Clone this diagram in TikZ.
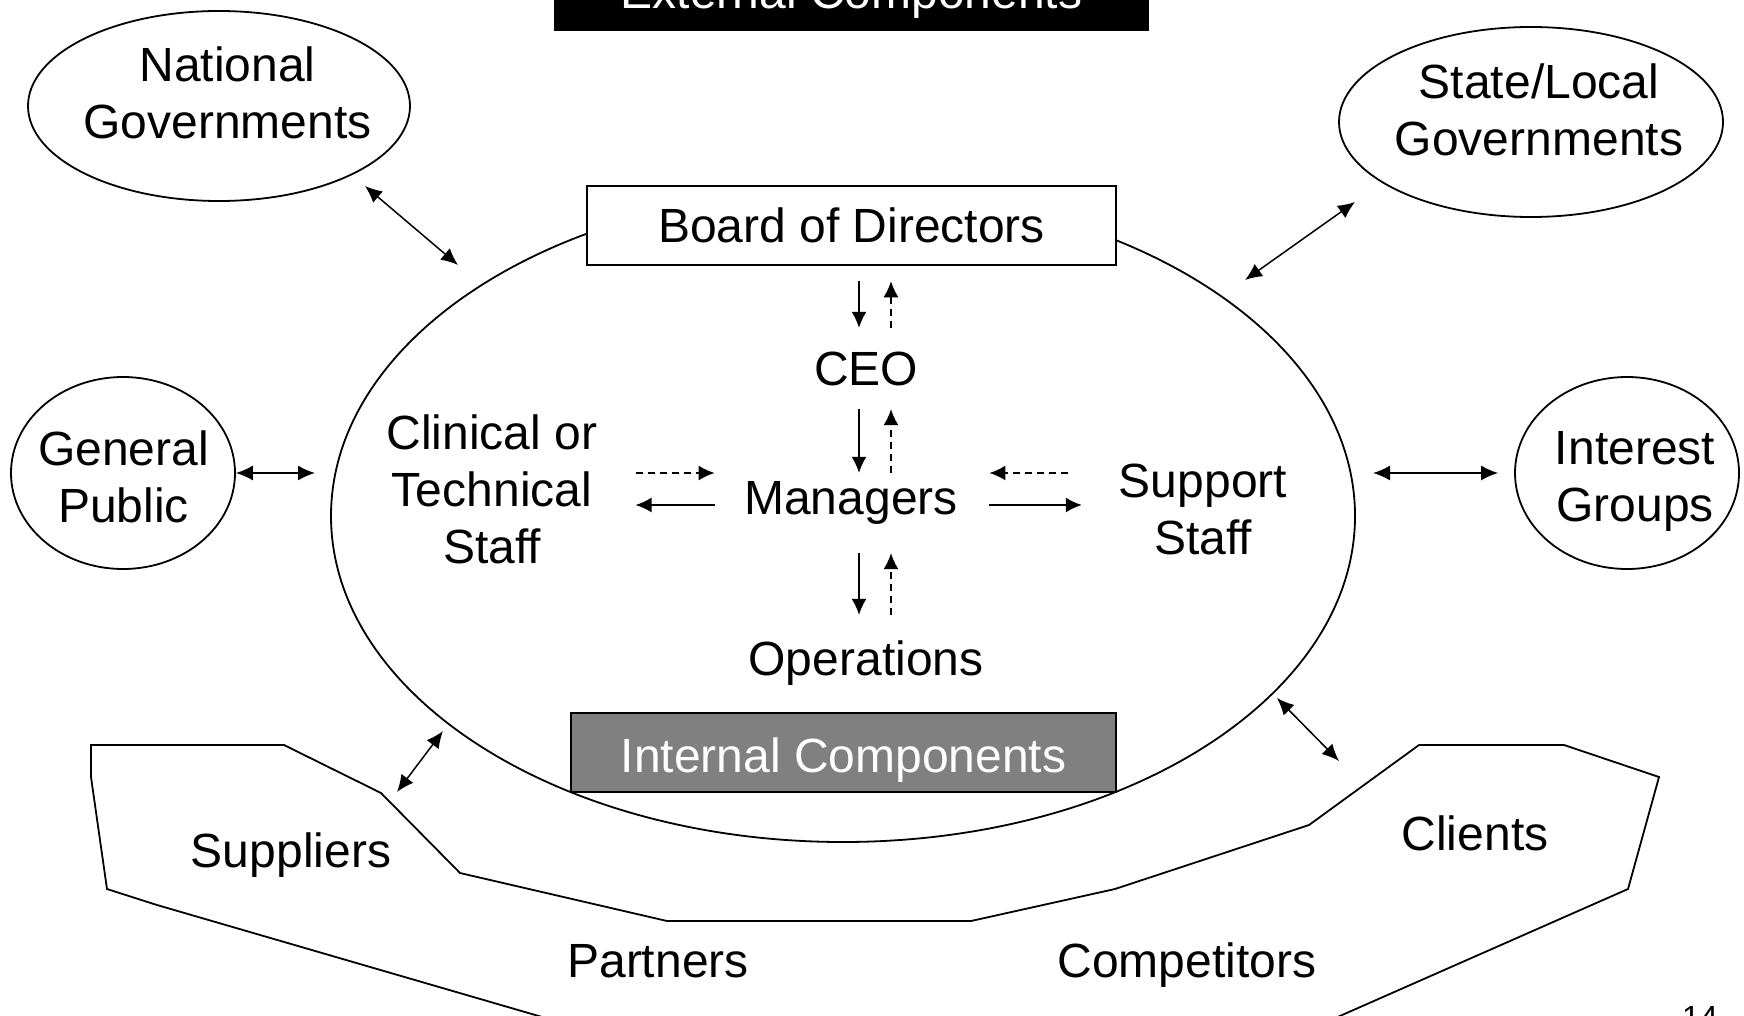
\documentclass[tikz,border=0pt]{standalone}
\usepackage{fontspec}
\setmainfont{Liberation Sans}
\usetikzlibrary{arrows.meta,shapes.geometric}

\begin{document}
\begin{tikzpicture}[x=1pt,y=-1pt,
    every node/.style={font=\fontsize{48}{57}\selectfont, inner sep=0pt},
    extnode/.style={draw, ellipse, line width=1.8pt},
    headbox/.style={draw, line width=1.5pt, minimum height=79pt},
    role/.style={anchor=base, text height=35pt, text depth=10pt},
    order/.style={-{Latex[length=16pt,width=15pt]}, line width=1.5pt},
    report/.style={order, dash pattern=on 7pt off 5pt},
    link/.style={{Latex[length=17pt,width=15pt]}-{Latex[length=17pt,width=15pt]}, line width=1.5pt}]
              \useasboundingbox (0,0) rectangle (1744,1016);
              \clip (0,0) rectangle (1744,1016);
              %\draw[help lines,step=100] (0,0) grid (1744,1016);

              % outer ring of the environment
              \draw[line width=1.8pt] (91,745) -- (284,745) -- (381,793) -- (460,873) -- (667,921)
                -- (971,921) -- (1115,889) -- (1309,825) -- (1419,745) -- (1564,745) -- (1659,777)
                -- (1628,889) -- (1240,1060) -- (690,1060) -- (157,905) -- (107,889) -- (91,777) -- cycle;

              \draw (843,516) node[draw, ellipse, line width=1.8pt, minimum width=1024pt, minimum height=652pt] (org) {};

              \draw (851.5,31) node[headbox, anchor=south, fill=black, text=white, minimum width=593pt, minimum height=68pt] (extcomp) {External Components};
              \draw (851.5,225.5) node[headbox, fill=white, minimum width=529pt] (board) {Board of Directors};
              \draw (843.5,752.5) node[headbox, fill=gray, text=white, minimum width=545pt, text height=49pt, text depth=10pt] (internal) {Internal Components};

              % outside parties
              \draw (219,106) node[extnode, minimum width=382pt, minimum height=190pt] (natgov) {};
              \draw (1531,122) node[extnode, minimum width=384pt, minimum height=190pt] (stategov) {};
              \draw (123,473) node[extnode, minimum width=224pt, minimum height=192pt] (genpub) {};
              \draw (1627,473) node[extnode, minimum width=224pt, minimum height=192pt] (interest) {};
              \draw (227.5,92.5) node[align=center] (natgovtext) {National\\Governments};
              \draw (1539,110) node[align=center] (stategovtext) {State/Local\\Governments};
              \draw (123.5,477) node[align=center] (genpubtext) {General\\Public};
              \draw (1635,481) node[align=center] (interesttext) {Interest\\Groups};

              \draw (866,385) node[role] (ceo) {CEO};
              \draw (851,514) node[role] (managers) {Managers};
              \draw (866,675) node[role] (operations) {Operations};
              \draw (492,489.5) node[align=center] (clinical) {Clinical or\\Technical\\Staff};
              \draw (1203,509) node[align=center] (support) {Support\\Staff};

              \draw (291,867) node[anchor=base] (suppliers) {Suppliers};
              \draw (1475,850) node[anchor=base] (clients) {Clients};
              \draw (658,977) node[anchor=base] (partners) {Partners};
              \draw (1187,977) node[anchor=base] (competitors) {Competitors};
              \draw (1700,1028) node[anchor=base, font=\fontsize{32}{38}\selectfont] (pagenum) {14};

              % chain of command
              \draw[order, shorten <=15.5pt, shorten >=22pt] ([xshift=-7pt]ceo.north |- board.south) -- ([xshift=-7pt]ceo.north);
              \draw[report, shorten <=22pt, shorten >=15.5pt] ([xshift=25pt]ceo.north) -- ([xshift=25pt]ceo.north |- board.south);
              \draw[order, shorten <=14pt, shorten >=6pt] ([xshift=-7pt]ceo.south) -- ([xshift=-7pt]ceo.south |- managers.north);
              \draw[report, shorten <=6pt, shorten >=14pt] ([xshift=25pt]ceo.south |- managers.north) -- ([xshift=25pt]ceo.south);
              \draw[order, shorten <=29pt, shorten >=25pt] ([xshift=-7pt]operations.north |- managers.south) -- ([xshift=-7pt]operations.north);
              \draw[report, shorten <=25pt, shorten >=29pt] ([xshift=25pt]operations.north) -- ([xshift=25pt]operations.north |- managers.south);

              \draw[report, shorten <=38pt, shorten >=29.5pt] ([yshift=28.5pt]managers.west -| clinical.east) -- ([yshift=28.5pt]managers.west);
              \draw[order, shorten <=29.5pt, shorten >=38pt] ([yshift=-3.5pt]managers.west) -- ([yshift=-3.5pt]managers.west -| clinical.east);
              \draw[report, shorten <=51pt, shorten >=31.5pt] ([yshift=28.5pt]managers.east -| support.west) -- ([yshift=28.5pt]managers.east);
              \draw[order, shorten <=31.5pt, shorten >=37pt] ([yshift=-3.5pt]managers.east) -- ([yshift=-3.5pt]managers.east -| support.west);

              % links to the outside
              \coordinate (ngA) at (365,186);
              \coordinate (ngB) at (458,265);
              \coordinate (slA) at (1355,202);
              \coordinate (slB) at (1245,280);
              \coordinate (gpB) at (315,473);
              \coordinate (igA) at (1373,473);
              \coordinate (suA) at (443,731);
              \coordinate (suB) at (397,792);
              \coordinate (clA) at (1277,698);
              \coordinate (clB) at (1339,761);

              \draw[link] (ngA)--(ngB);
              \draw[link] (slA)--(slB);
              \draw[link] (genpub.east)--(gpB);
              \draw[link, shorten >=16pt] (igA)--(interest.west);
              \draw[link] (suA)--(suB);
              \draw[link] (clA)--(clB);
            \end{tikzpicture}
\end{document}
